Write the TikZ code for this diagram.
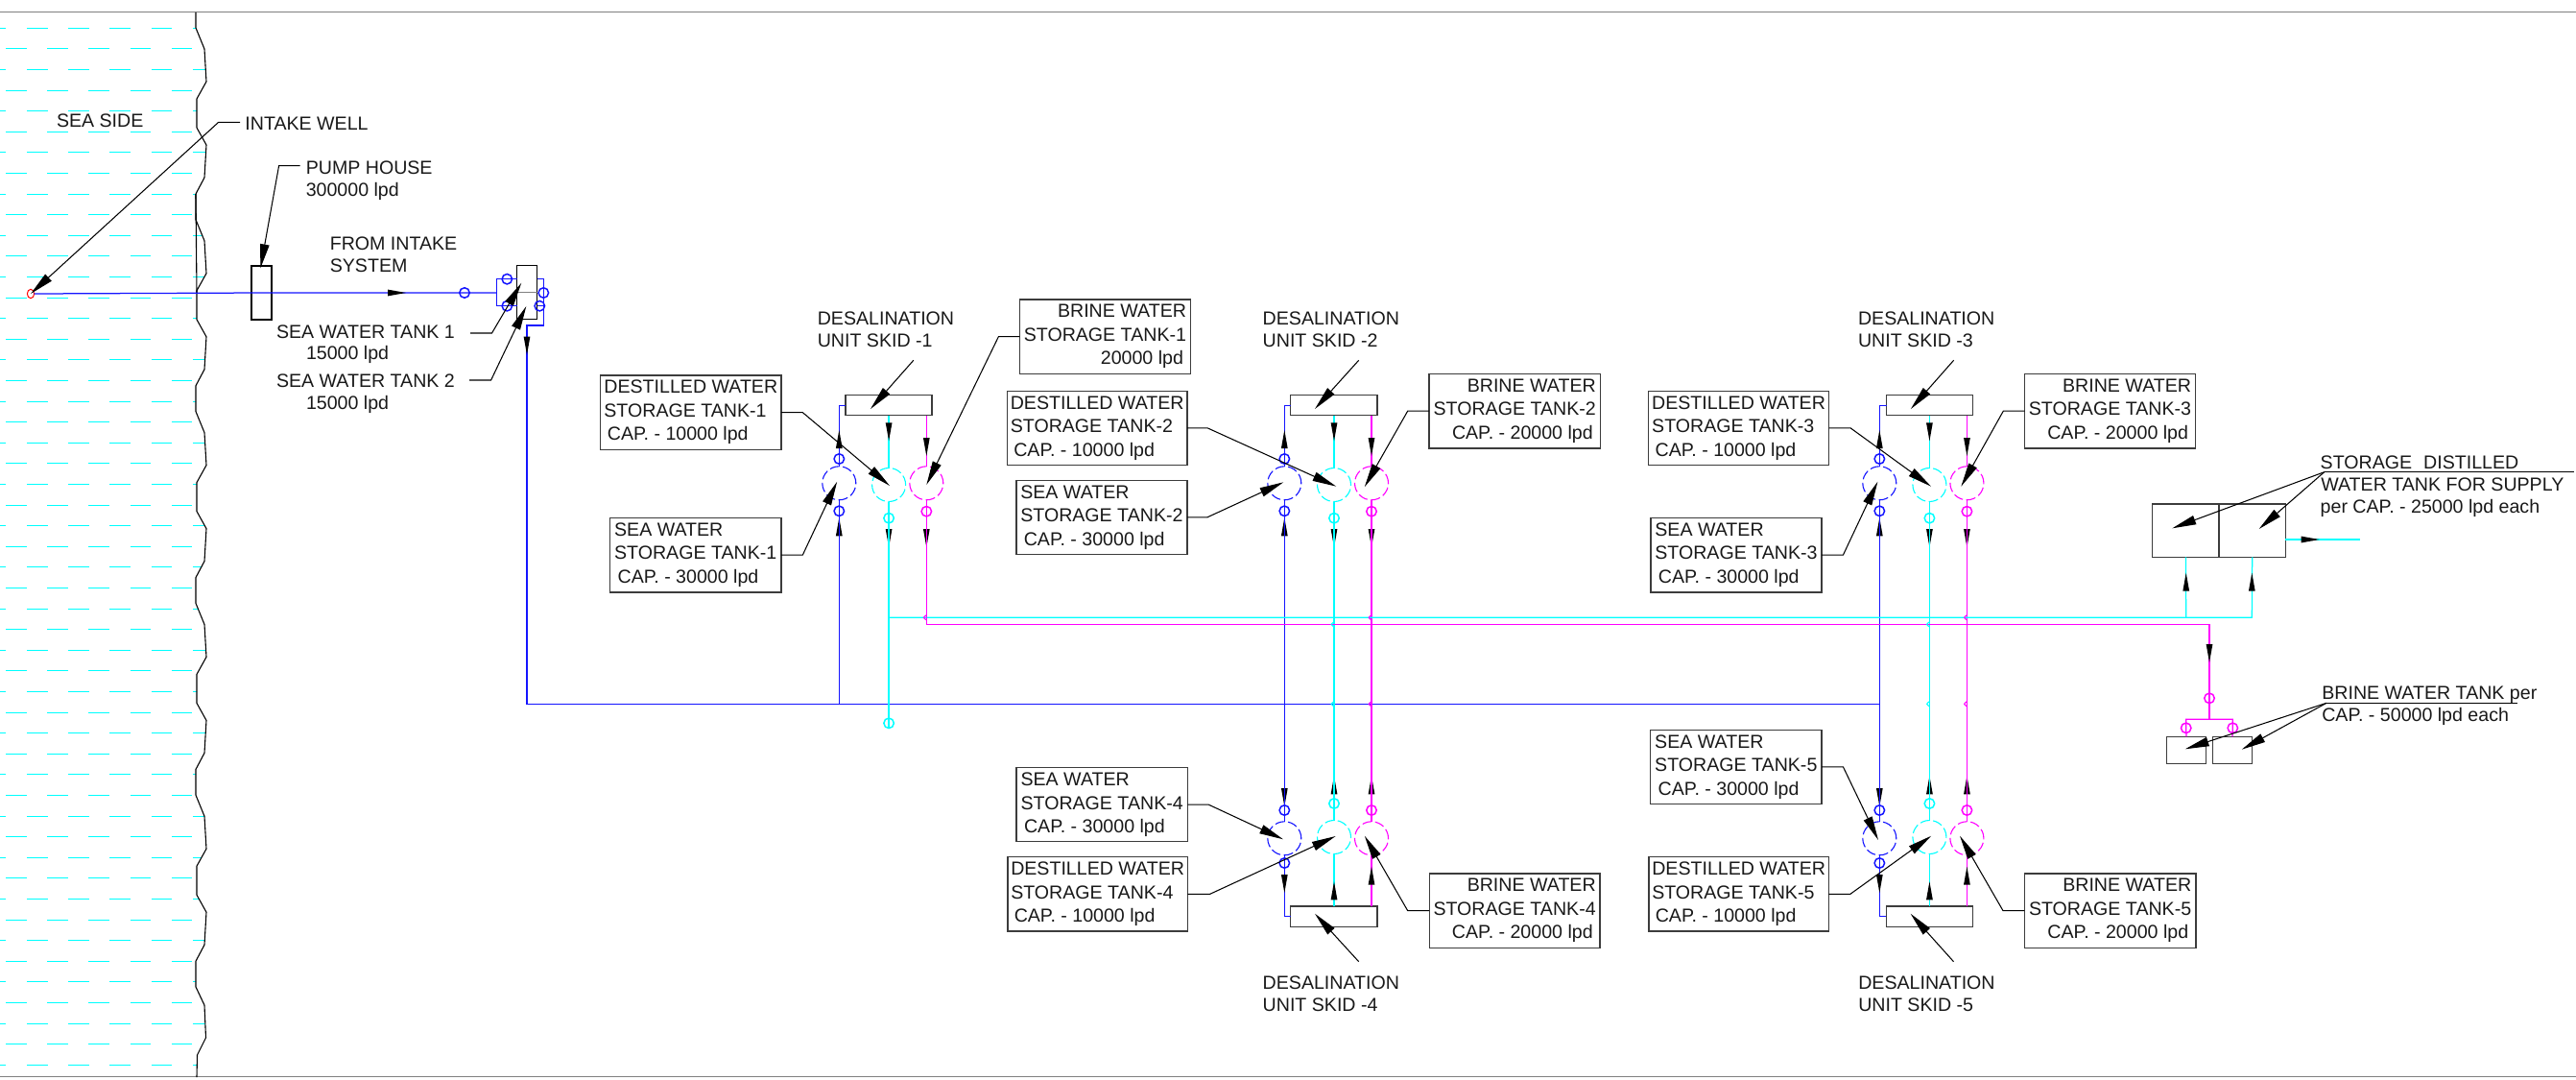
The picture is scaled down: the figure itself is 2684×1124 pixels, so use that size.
\documentclass[tikz,border=0pt]{standalone}
\usepackage{fontspec}
\setmainfont{Liberation Sans}
\usetikzlibrary{arrows.meta,shapes.geometric}
\definecolor{pipeblue}{RGB}{20,20,255}
\definecolor{pipecyan}{RGB}{0,255,255}
\definecolor{pipemag}{RGB}{255,0,255}
\definecolor{framegray}{RGB}{128,128,128}
\definecolor{boxline}{RGB}{60,60,60}
\definecolor{ink}{RGB}{25,25,25}
\tikzset{
 lbl/.style={inner sep=0,outer sep=0,anchor=base west,text=ink,font=\fontsize{19.6}{24.5}\selectfont},
 lbox/.style n args={3}{draw=boxline,line width=1.4,inner sep=0,outer sep=0,anchor=north west,
   minimum width=#1,minimum height=#2,align=#3,text=ink,font=\fontsize{19.6}{24.5}\selectfont},
 vessel/.style n args={2}{draw=boxline,line width=1.4,inner sep=0,outer sep=0,anchor=north west,
   minimum width=#1,minimum height=#2},
 tank/.style={circle,draw=#1,line width=1.1,inner sep=0,outer sep=0,minimum size=35,dash pattern=on 10pt off 3.6pt},
 valve/.style={circle,draw=#1,line width=1.5,inner sep=0,outer sep=0,minimum size=10.5},
 pblue/.style={draw=pipeblue,line width=1.25},
 pcyan/.style={draw=pipecyan,line width=1.25},
 pmag/.style={draw=pipemag,line width=1.25},
 leader/.style={draw=black,line width=1.05,-{Triangle[length=25pt,width=9.5pt]}},
 plainline/.style={draw=black,line width=1.3},
}
\newcommand\ardn[2]{\fill[black] (#1,#2) -- ++(-3.4,-19) -- ++(6.8,0) -- cycle;}
\newcommand\arup[2]{\fill[black] (#1,#2) -- ++(-3.4,19) -- ++(6.8,0) -- cycle;}
\newcommand\arrt[2]{\fill[black] (#1,#2) -- ++(-19,-3.4) -- ++(0,6.8) -- cycle;}
\newcommand\bump[3]{\draw[#3,line width=1.1] (#1,#2-2.6) .. controls (#1-3.6,#2) .. (#1,#2+2.6);}
\newcommand\ldR[3]{\draw[leader] (#1.east) -- ++(#2,0) -- (#3);}
\newcommand\ldL[3]{\draw[leader] (#1.west) -- ++(-#2,0) -- (#3);}
% id, blue x, cyan x, magenta x
\newcommand\topunit[4]{
 \node[tank=pipeblue] (s#1) at (#2,503.3) {};
 \node[tank=pipecyan] (d#1) at (#3,505) {};
 \node[tank=pipemag] (b#1) at (#4,503.3) {};
 \node[valve=pipeblue] (vsa#1) at (#2,478) {};
 \node[valve=pipeblue] (vsb#1) at (#2,532.3) {};
 \node[valve=pipecyan] (vd#1) at (#3,539.7) {};
 \node[valve=pipemag] (vb#1) at (#4,532.7) {};
 \draw[pblue] (s#1.north) |- (sk#1.west);
 \draw[pcyan] (d#1.north) -- (d#1.north |- sk#1.south);
 \draw[pmag] (b#1.north) -- (b#1.north |- sk#1.south);
 \arup{#2}{448}\arup{#2}{539.3}
 \ardn{#3}{459.3}\ardn{#3}{570}
 \ardn{#4}{475}\ardn{#4}{570}
}
\newcommand\botunit[4]{
 \node[tank=pipeblue] (s#1) at (#2,873.3) {};
 \node[tank=pipecyan] (d#1) at (#3,872) {};
 \node[tank=pipemag] (b#1) at (#4,873.3) {};
 \node[valve=pipeblue] (vsa#1) at (#2,844) {};
 \node[valve=pipeblue] (vsb#1) at (#2,899) {};
 \node[valve=pipecyan] (vd#1) at (#3,837) {};
 \node[valve=pipemag] (vb#1) at (#4,844) {};
 \draw[pblue] (s#1.south) |- (sk#1.west);
 \draw[pcyan] (d#1.south) -- (d#1.south |- sk#1.north);
 \draw[pmag] (b#1.south) -- (b#1.south |- sk#1.north);
 \ardn{#2}{840}\ardn{#2}{930}
 \arup{#3}{808.3}\arup{#3}{918.3}
 \arup{#4}{808.3}\arup{#4}{902.7}
}
\newcommand\wave{(204,13) -- (204,29)
 \foreach \k in {0,...,4}{
  -- (213,51+199.8*\k) -- (215,85+199.8*\k) -- (205,103+199.8*\k) -- (205,133+199.8*\k)
  -- (215,151+199.8*\k) -- (213,185+199.8*\k) -- (204,202+199.8*\k) -- (204,228.8+199.8*\k)}
 -- (213,1047) -- (214.5,1081) -- (205.5,1099) -- (205,1122)}
\begin{document}
\begin{tikzpicture}[x=1pt,y=-1pt]
\useasboundingbox (0,0) rectangle (2684,1124);
\fill[white] (0,0) rectangle (2684,1124);
% water
\begin{scope}
 \clip (0,13) -- \wave -- (0,1122) -- cycle;
 \foreach \r in {0,2,...,50}{
  \draw[pipecyan,line width=1.1,dash pattern=on 21.6pt off 21.6pt] (-15.2,29.3+21.6*\r) -- (220,29.3+21.6*\r);}
 \foreach \r in {1,3,...,49}{
  \draw[pipecyan,line width=1.1,dash pattern=on 21.6pt off 21.6pt] (6,29.3+21.6*\r) -- (220,29.3+21.6*\r);}
\end{scope}
\draw[framegray,line width=1.4] (0,12.7) -- (2684,12.7);
\draw[framegray,line width=1.4] (0,1121.7) -- (2684,1121.7);
\draw[black,line width=1.1] \wave;
\draw[black,line width=1.1] (204,202) -- (205,305);
% vessels
\node[ellipse,draw=red,line width=1,inner sep=0,outer sep=0,minimum width=7.2,minimum height=9.4] (well) at (32,306) {};
\node[vessel={21}{56},draw=black,line width=1.05] (pump) at (262,277) {};
\node[vessel={21}{55.6},draw=black,line width=1.2] (swt) at (538.5,276.7) {};
\node[vessel={90}{21}] (sk1) at (881,411.7) {};
\node[vessel={90.3}{21}] (sk2) at (1344.7,411.7) {};
\node[vessel={90}{21}] (sk3) at (1965.5,411.7) {};
\node[vessel={90.2}{21.3}] (sk4) at (1344.7,944) {};
\node[vessel={90.2}{21.3}] (sk5) at (1965.3,944) {};
\node[vessel={69.3}{55.3}] (dst1) at (2242.7,525) {};
\node[vessel={69.3}{55.3}] (dst2) at (2312,525) {};
\node[vessel={41.4}{28}] (brn1) at (2257.3,767.3) {};
\node[vessel={41.4}{28}] (brn2) at (2305.3,767.3) {};
\draw[framegray,line width=1.4] (swt.west) -- (swt.east);
% inlet pipework
\node[valve=pipeblue] (vin) at (484,305) {};
\node[valve=pipeblue] (vt1) at (528.3,290.7) {};
\node[valve=pipeblue] (vt2) at (528.3,318.7) {};
\node[valve=pipeblue] (vt3) at (566.3,305) {};
\node[valve=pipeblue] (vt4) at (562.3,318.7) {};
\coordinate (tee) at (517.7,305);
\coordinate (drop) at (549,339);
\coordinate (main) at (549,733.3);
\coordinate (mainend) at (1958.3,733.3);
\draw[pblue] (well.east) -- (pump.center) -- (vin.center) -- (tee);
\draw[pblue] (tee) |- (vt1.center) -- (vt1.center -| swt.west);
\draw[pblue] (tee) |- (vt2.center) -- (vt2.center -| swt.west);
\draw[pblue] (swt.east |- vt1.center) -| (vt3.center) -- (566.3,339) -- (drop) -- (main) -- (mainend);
\draw[pblue] (swt.east |- vt4.center) -- (566.3,318.7);
\arrt{423}{305}
\ardn{549}{369.5}
% unit tanks
\topunit{1}{874.3}{926.1}{965.3}
\topunit{2}{1338.3}{1390}{1429}
\topunit{3}{1958.3}{2010.4}{2049.4}
\botunit{4}{1338.3}{1390}{1429}
\botunit{5}{1958.3}{2010.4}{2049.4}
% risers
\draw[pblue] (s1.south) -- (s1.south |- main);
\draw[pblue] (s2.south) -- (s4.north);
\draw[pblue] (s3.south) -- (s5.north);
\node[valve=pipecyan] (vcy) at (926.1,753.3) {};
\coordinate (cyhdr) at (926.1,643.3);
\coordinate (cyhdrb) at (2277.7,643.3);
\coordinate (cyhdre) at (2346.3,643.3);
\draw[pcyan] (d1.south) -- (vcy.south);
\draw[pcyan] (d2.south) -- (d4.north);
\draw[pcyan] (d3.south) -- (d5.north);
\draw[pmag] (b2.south) -- (b4.north);
\draw[pmag] (b3.south) -- (b5.north);
\draw[pcyan] (cyhdr) -- (cyhdre) -- (dst2.south);
\draw[pcyan] (cyhdrb) -- (dst1.south);
\coordinate (mgout) at (2302,650.4);
\coordinate (mgtee) at (2302,749.3);
\coordinate (outend) at (2458.7,562);
\node[valve=pipemag] (vmg) at (2302,727.3) {};
\node[valve=pipemag] (vbr1) at (2277.7,758.3) {};
\node[valve=pipemag] (vbr2) at (2326.3,758.3) {};
\draw[pmag] (b1.south) |- (mgout) -- (mgtee);
\draw[pmag] (brn1.north) -- (vbr1.center) -- (2277.7,749.3) -- (2326.3,749.3) -- (vbr2.center) -- (brn2.north);
\draw[pcyan] (dst2.east |- outend) -- (outend);
\arup{2277.7}{596.7}\arup{2346.3}{596.7}
\arrt{2416.7}{562}
\ardn{2302}{690}
\bump{965.3}{643.3}{pipemag}
\bump{1429}{643.3}{pipemag}
\bump{2049.4}{643.3}{pipemag}
\bump{1390}{650.4}{pipecyan}
\bump{2010.4}{650.4}{pipecyan}
\bump{1390}{733.3}{pipecyan}
\bump{1429}{733.3}{pipemag}
\bump{2010.4}{733.3}{pipecyan}
\bump{2049.4}{733.3}{pipemag}
% boxes
\node[lbox={188.2}{77.3}{left}] (lbd1) at (625.7,391) {DESTILLED WATER\\STORAGE TANK-1\\\hspace*{3.5pt}CAP. - 10000 lpd};
\node[lbox={178.4}{77.7}{left}] (lbs1) at (635.5,539.3) {SEA WATER\\STORAGE TANK-1\\\hspace*{3.5pt}CAP. - 30000 lpd};
\node[lbox={178}{77.3}{right}] (lbb1) at (1062.4,312) {BRINE WATER\\STORAGE TANK-1\\20000 lpd\hspace*{3pt}};
\node[lbox={187.6}{77}{left}] (lbd2) at (1049.4,407.3) {DESTILLED WATER\\STORAGE TANK-2\\\hspace*{3.5pt}CAP. - 10000 lpd};
\node[lbox={178.2}{77}{left}] (lbs2) at (1058.8,500.3) {SEA WATER\\STORAGE TANK-2\\\hspace*{3.5pt}CAP. - 30000 lpd};
\node[lbox={178.3}{77.7}{right}] (lbb2) at (1489,389.3) {BRINE WATER\\STORAGE TANK-2\\CAP. - 20000 lpd\hspace*{3pt}};
\node[lbox={187.9}{77}{left}] (lbd3) at (1717.6,407.3) {DESTILLED WATER\\STORAGE TANK-3\\\hspace*{3.5pt}CAP. - 10000 lpd};
\node[lbox={177.9}{77.7}{left}] (lbs3) at (1720,539.3) {SEA WATER\\STORAGE TANK-3\\\hspace*{3.5pt}CAP. - 30000 lpd};
\node[lbox={177.9}{77.7}{right}] (lbb3) at (2109.5,389.3) {BRINE WATER\\STORAGE TANK-3\\CAP. - 20000 lpd\hspace*{3pt}};
\node[lbox={178.3}{77}{left}] (lbs4) at (1059,799.7) {SEA WATER\\STORAGE TANK-4\\\hspace*{3.5pt}CAP. - 30000 lpd};
\node[lbox={187.3}{77.3}{left}] (lbd4) at (1050,892.7) {DESTILLED WATER\\STORAGE TANK-4\\\hspace*{3.5pt}CAP. - 10000 lpd};
\node[lbox={177.8}{77.3}{right}] (lbb4) at (1489.2,910) {BRINE WATER\\STORAGE TANK-4\\CAP. - 20000 lpd\hspace*{3pt}};
\node[lbox={178.4}{77}{left}] (lbs5) at (1719.6,760.3) {SEA WATER\\STORAGE TANK-5\\\hspace*{3.5pt}CAP. - 30000 lpd};
\node[lbox={187.3}{77.3}{left}] (lbd5) at (1718,892.7) {DESTILLED WATER\\STORAGE TANK-5\\\hspace*{3.5pt}CAP. - 10000 lpd};
\node[lbox={178.4}{77.3}{right}] (lbb5) at (2109.4,910) {BRINE WATER\\STORAGE TANK-5\\CAP. - 20000 lpd\hspace*{3pt}};
% free labels (base line = centre + 7)
\node[lbl] (tsea) at (59,132.3) {SEA SIDE};
\node[lbl] (twell) at (255.4,135.3) {INTAKE WELL};
\node[lbl] (tpump) at (318.8,181.3) {PUMP HOUSE};
\node[lbl] (tpumpq) at (318.8,204.3) {300000 lpd};
\node[lbl] (tfrom) at (343.8,260.3) {FROM INTAKE};
\node[lbl] (tsys) at (343.8,283) {SYSTEM};
\node[lbl] (tt1) at (288,352.3) {SEA WATER TANK 1};
\node[lbl] (tt1q) at (319,374.7) {15000 lpd};
\node[lbl] (tt2) at (288,403) {SEA WATER TANK 2};
\node[lbl] (tt2q) at (319,426.3) {15000 lpd};
\node[lbl] (tsk1a) at (851.8,338) {DESALINATION};
\node[lbl] (tsk1b) at (851.8,361) {UNIT SKID -1};
\node[lbl] (tsk2a) at (1315.7,338) {DESALINATION};
\node[lbl] (tsk2b) at (1315.7,361) {UNIT SKID -2};
\node[lbl] (tsk3a) at (1936,338) {DESALINATION};
\node[lbl] (tsk3b) at (1936,361) {UNIT SKID -3};
\node[lbl] (tsk4a) at (1315.7,1030.3) {DESALINATION};
\node[lbl] (tsk4b) at (1315.7,1053) {UNIT SKID -4};
\node[lbl] (tsk5a) at (1936.3,1030.3) {DESALINATION};
\node[lbl] (tsk5b) at (1936.3,1053) {UNIT SKID -5};
\node[lbl] (tst1) at (2417.7,488.3) {STORAGE\hspace*{12pt}DISTILLED};
\node[lbl] (tst2) at (2418.3,511.3) {WATER TANK FOR SUPPLY};
\node[lbl] (tst3) at (2417.7,534.7) {per CAP. - 25000 lpd each};
\node[lbl] (tbr1) at (2419.3,728.7) {BRINE WATER TANK per};
\node[lbl] (tbr2) at (2419.3,751.7) {CAP. - 50000 lpd each};
% leader end points
\coordinate (wellel) at (227.7,127.3);
\coordinate (wellst) at (250,127.3);
\coordinate (pumpel) at (290.6,172.7);
\coordinate (pumpst) at (312.5,172.7);
\coordinate (t1st) at (490,347);
\coordinate (t1el) at (512.5,347);
\coordinate (t1tip) at (543.3,294.7);
\coordinate (t2st) at (489,396);
\coordinate (t2el) at (511.6,396);
\coordinate (t2tip) at (548.3,319);
\coordinate (stel) at (2421.7,491.7);
\coordinate (stend) at (2682.3,491.7);
\coordinate (brel) at (2424,732.3);
\coordinate (brend) at (2622.7,732.3);
\draw[leader] (wellst) -- (wellel) -- (well.center);
\draw[leader] (pumpst) -- (pumpel) -- (271.4,279.3);
\draw[leader] (t1st) -- (t1el) -- (t1tip);
\draw[leader] (t2st) -- (t2el) -- (t2tip);
\ldR{lbd1}{22.4}{927,506}
\ldR{lbs1}{22.4}{872.2,501.7}
\ldL{lbb1}{22}{965.3,505}
\ldR{lbd2}{21}{1392.3,506.7}
\ldR{lbs2}{21}{1337.3,502.3}
\ldL{lbb2}{22.3}{1421.7,507.3}
\ldR{lbd3}{22.5}{2012,506.7}
\ldR{lbs3}{22.5}{1956.4,501.7}
\ldL{lbb3}{22.2}{2043.3,506.7}
\ldR{lbs4}{22.1}{1337,874.3}
\ldR{lbd4}{23.3}{1391.6,871}
\ldL{lbb4}{22.5}{1421.8,870.7}
\ldR{lbs5}{22.4}{1957,875}
\ldR{lbd5}{22.5}{2012.2,870.7}
\ldL{lbb5}{22.4}{2042,870.7}
\coordinate (sk1st) at (951.8,375.3);
\coordinate (sk2st) at (1415.7,375.3);
\coordinate (sk3st) at (2035.6,375.3);
\coordinate (sk4st) at (1415.7,1001.7);
\coordinate (sk5st) at (2035.5,1001.7);
\draw[leader] (sk1st) -- (907,426);
\draw[leader] (sk2st) -- (1370,426);
\draw[leader] (sk3st) -- (1990.9,426);
\draw[leader] (sk4st) -- (1370,951.7);
\draw[leader] (sk5st) -- (1990.6,951.7);
\draw[plainline] (stel) -- (stend);
\draw[leader] (stel) -- (2263.3,550.3);
\draw[leader] (stel) -- (2353.7,551);
\draw[plainline] (brel) -- (brend);
\draw[leader] (brel) -- (2276.7,780.3);
\draw[leader] (brel) -- (2335.7,780.7);
\end{tikzpicture}
\end{document}
